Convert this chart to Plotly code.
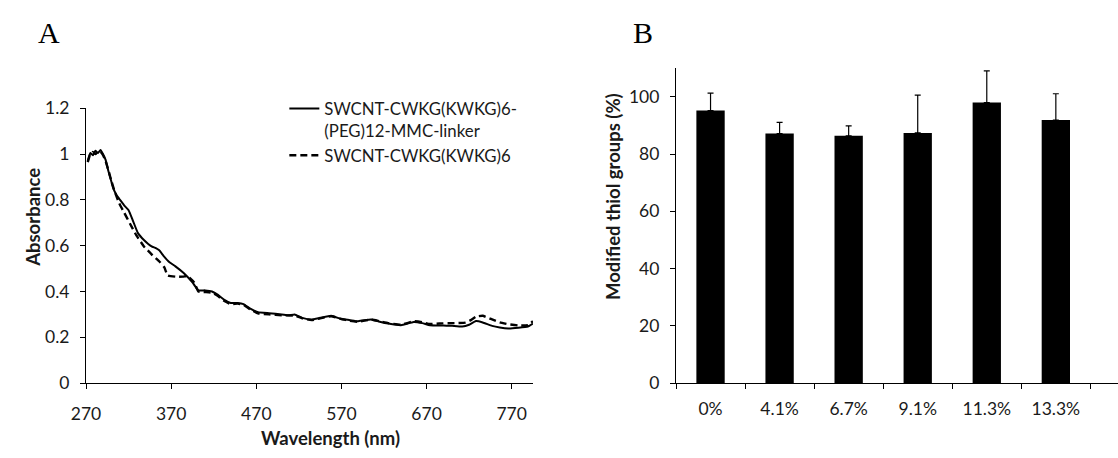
import plotly.graph_objects as go

# Panel A: absorbance spectra
wl_conj = [272, 275, 278, 281, 284, 287, 290, 293, 296, 299, 302, 306, 310, 315, 320,
           325, 331, 338, 347, 352, 356, 361, 368, 375, 385, 395, 402, 410, 418, 425,
           432, 440, 448, 455, 463, 472, 485, 500, 508, 515, 524, 535, 545, 558, 570,
           580, 589, 597, 605, 615, 625, 640, 655, 665, 674, 690, 700, 712, 720, 728,
           736, 747, 756, 766, 778, 789, 795]
abs_conj = [0.97, 1.005, 0.995, 1.015, 1.005, 1.018, 1.0, 0.975, 0.93, 0.89, 0.85, 0.82,
            0.80, 0.775, 0.755, 0.71, 0.655, 0.625, 0.597, 0.59, 0.58, 0.556, 0.528, 0.51,
            0.48, 0.44, 0.405, 0.405, 0.40, 0.385, 0.365, 0.35, 0.35, 0.345, 0.325, 0.31,
            0.305, 0.30, 0.296, 0.30, 0.285, 0.278, 0.285, 0.294, 0.28, 0.275, 0.27, 0.275,
            0.278, 0.268, 0.26, 0.253, 0.267, 0.262, 0.253, 0.252, 0.25, 0.247, 0.255,
            0.271, 0.265, 0.25, 0.243, 0.239, 0.242, 0.247, 0.26]

wl_pep = [272, 275, 278, 281, 284, 287, 290, 293, 297, 300, 304, 309, 315, 322, 329,
          338, 347, 357, 362, 366, 375, 384, 389, 397, 402, 410, 418, 425, 432, 440,
          448, 455, 463, 472, 485, 500, 515, 524, 535, 545, 558, 570, 580, 589, 597,
          605, 615, 625, 640, 655, 665, 674, 689, 700, 716, 722, 728, 736, 747, 756,
          766, 778, 789, 795]
abs_pep = [0.965, 1.0, 1.01, 1.0, 1.012, 1.01, 0.995, 0.97, 0.92, 0.88, 0.833, 0.785,
           0.743, 0.694, 0.646, 0.597, 0.5625, 0.528, 0.505, 0.47, 0.465, 0.465, 0.468,
           0.44, 0.40, 0.398, 0.395, 0.38, 0.36, 0.345, 0.347, 0.342, 0.322, 0.305, 0.30,
           0.296, 0.295, 0.283, 0.275, 0.283, 0.292, 0.28, 0.272, 0.268, 0.273, 0.278,
           0.27, 0.262, 0.255, 0.27, 0.266, 0.258, 0.261, 0.262, 0.264, 0.275, 0.29,
           0.294, 0.278, 0.265, 0.257, 0.252, 0.253, 0.27]

# Panel B: thiol modification
loading = ["0%", "4.1%", "6.7%", "9.1%", "11.3%", "13.3%"]
thiol = [95.2, 87.2, 86.4, 87.4, 98.0, 91.9]
thiol_err = [6.1, 3.9, 3.5, 13.2, 11.1, 9.2]

W, H = 1118, 458
FONT = "Lato"
INK = "#1a1a1a"

fig = go.Figure()

fig.add_trace(go.Scatter(
    x=wl_conj, y=abs_conj, mode="lines",
    name="SWCNT-CWKG(KWKG)6-<br>(PEG)12-MMC-linker",
    line=dict(color="black", width=2, shape="spline", smoothing=0.4),
    xaxis="x", yaxis="y"))
fig.add_trace(go.Scatter(
    x=wl_pep, y=abs_pep, mode="lines",
    name="SWCNT-CWKG(KWKG)6",
    line=dict(color="black", width=2.4, dash="7px,4px", shape="spline", smoothing=0.4),
    xaxis="x", yaxis="y"))

fig.add_trace(go.Bar(
    x=loading, y=thiol, width=0.41, marker=dict(color="black", line=dict(width=0)),
    error_y=dict(type="data", array=thiol_err, arrayminus=[0] * len(thiol_err),
                 symmetric=False, color="black", thickness=1.2, width=3),
    showlegend=False, xaxis="x2", yaxis="y2"))


def px_x(p):
    return p / W


def px_y(p):
    return 1 - p / H


axis_common = dict(showline=True, linecolor="black", linewidth=1.2, ticks="outside",
                   ticklen=5, tickwidth=1.2, tickcolor="black", showgrid=False,
                   zeroline=False, tickfont=dict(family=FONT, size=17.5, color=INK))

fig.update_layout(
    width=W, height=H, margin=dict(l=0, r=0, t=0, b=0),
    paper_bgcolor="white", plot_bgcolor="white",
    showlegend=True,
    legend=dict(x=px_x(273), y=px_y(84), xanchor="left", yanchor="top",
                font=dict(family=FONT, size=16.8, color=INK), itemwidth=30,
                valign="top", tracegroupgap=0, bgcolor="rgba(0,0,0,0)"),
    xaxis=dict(domain=[px_x(72), px_x(525)], range=[270, 795], tick0=270, dtick=100,
               anchor="y", **axis_common),
    yaxis=dict(domain=[px_y(390), px_y(102)], range=[0, 1.2], dtick=0.2,
               anchor="x", **axis_common),
    xaxis2=dict(domain=[px_x(670), 1.0], range=[-0.5, 5.9], type="category",
                tickson="boundaries", anchor="y2", **axis_common),
    yaxis2=dict(domain=[px_y(390), px_y(60)], range=[0, 110], dtick=20,
                anchor="x2", **axis_common),
    bargap=0.59,
)

fig.update_xaxes(ticklabelstandoff=10)
fig.update_yaxes(ticklabelstandoff=7)

annotations = [
    dict(text="A", x=px_x(21), y=px_y(23), xanchor="left", yanchor="middle",
         font=dict(family="Liberation Serif", size=30, color="black")),
    dict(text="B", x=px_x(624), y=px_y(23), xanchor="left", yanchor="middle",
         font=dict(family="Liberation Serif", size=30, color="black")),
    dict(text="<b>Wavelength (nm)</b>", x=px_x(320), y=px_y(447), xanchor="center",
         yanchor="middle", font=dict(family=FONT, size=18.5, color=INK)),
    dict(text="<b>Absorbance</b>", x=px_x(18), y=px_y(216), xanchor="center",
         yanchor="middle", textangle=-90, font=dict(family=FONT, size=18.5, color=INK)),
    dict(text="<b>Modified thiol groups (%)</b>", x=px_x(606), y=px_y(194),
         xanchor="center", yanchor="middle", textangle=-90,
         font=dict(family=FONT, size=18.5, color=INK)),
]
for a in annotations:
    a.update(xref="paper", yref="paper", showarrow=False)
fig.update_layout(annotations=annotations)

fig.write_html("out.html")
